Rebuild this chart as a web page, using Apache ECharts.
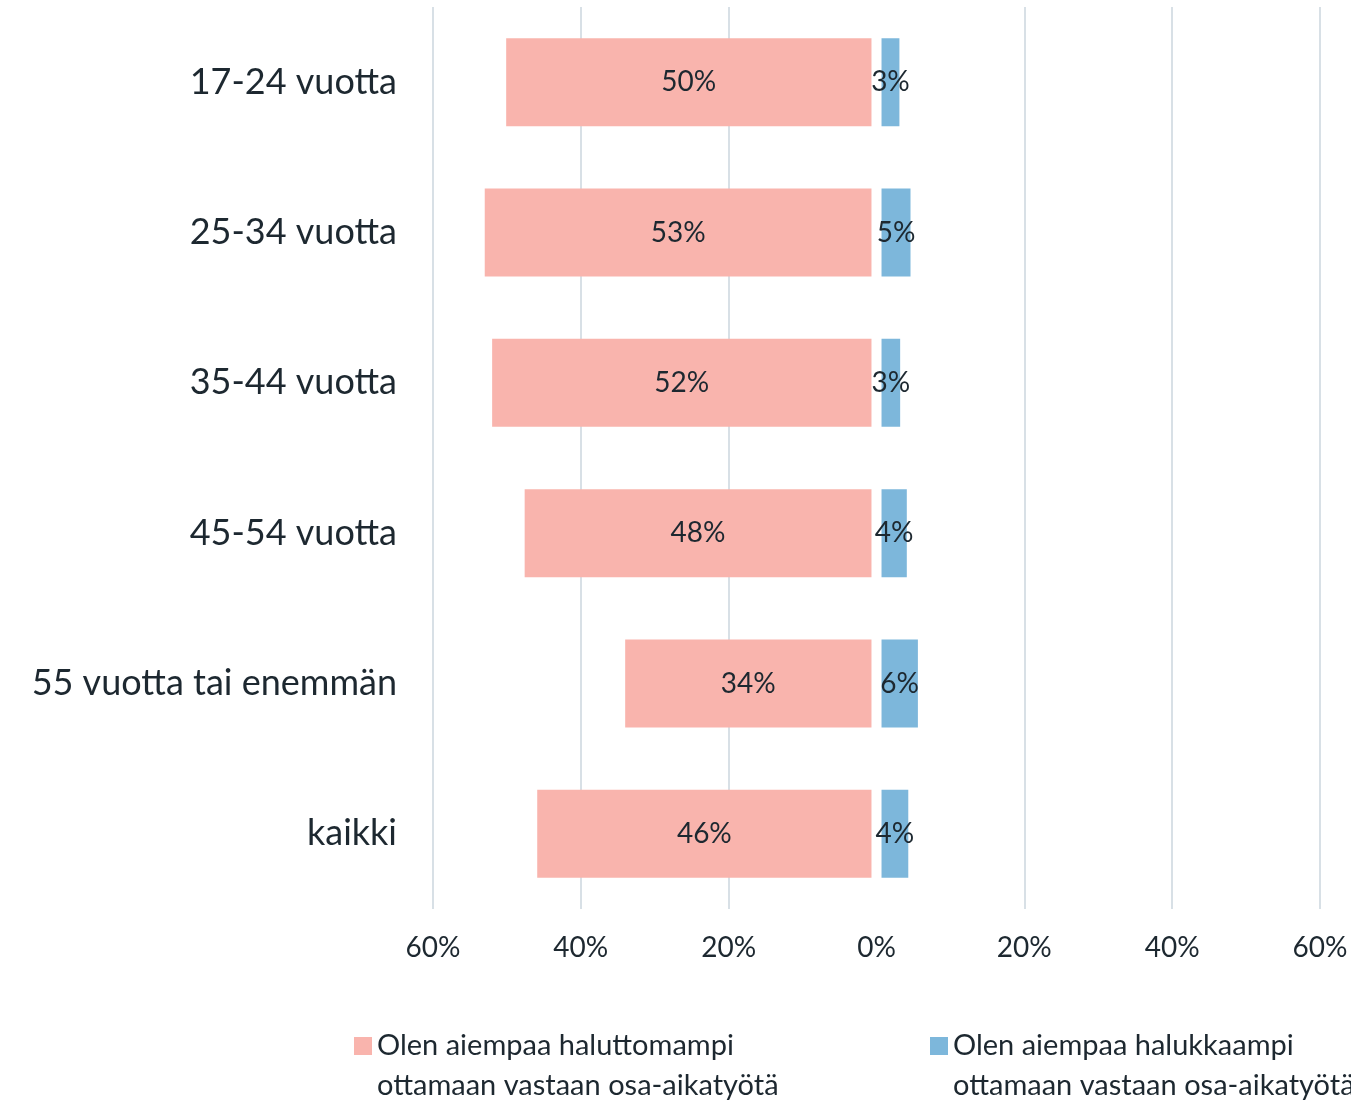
<!DOCTYPE html>
<html>
<head>
<meta charset="utf-8">
<script src="https://cdn.jsdelivr.net/npm/echarts@6/dist/echarts.min.js"></script>
<style>
  html, body { margin: 0; padding: 0; background: #fff; }
  #chart { width: 1351px; height: 1102px; }
</style>
</head>
<body>
<div id="chart"></div>
<script>
// ikäryhmät
var categories = ['17-24 vuotta', '25-34 vuotta', '35-44 vuotta', '45-54 vuotta', '55 vuotta tai enemmän', 'kaikki'];
// haluttomampi (vasen puoli)
var lessWilling = [50.1, 53.0, 52.0, 47.6, 34.0, 45.9];
// halukkaampi (oikea puoli)
var moreWilling = [3.1, 4.6, 3.2, 4.1, 5.6, 4.3];
var seriesNames = ['Olen aiempaa haluttomampi\nottamaan vastaan osa-aikatyötä', 'Olen aiempaa halukkaampi\nottamaan vastaan osa-aikatyötä'];
var axisTicks = [-60, -40, -20, 0, 20, 40, 60];

var GAP = 0.68; // valkoinen rako nollan kohdalla
var FONT = 'Lato';
var TXT = '#1d2830';
var PINK = '#f9b4ad';
var BLUE = '#7db7db';
var GRIDC = '#d8e0e6';
// neliö ylälaidassa, jotta se osuu tekstin ensimmäiselle riville
var LEGEND_ICON = 'path://M0,0h18v18h-18z M0,58h0';

var myChart = echarts.init(document.getElementById('chart'));

var gapData = categories.map(function(){ return GAP; });

function legendOpt(left, name){
  return {
    left: left, top: 1026, padding: 0,
    itemWidth: 18, itemHeight: 58, icon: LEGEND_ICON,
    data: [name],
    textStyle: { fontFamily: FONT, fontSize: 29, color: TXT, lineHeight: 40 },
    selectedMode: false
  };
}

var option = {
  animation: false,
  textStyle: { fontFamily: FONT },
  grid: { left: 433, right: 31, top: 7, bottom: 193 },
  legend: [ legendOpt(354, seriesNames[0]), legendOpt(930, seriesNames[1]) ],
  xAxis: {
    type: 'value',
    min: axisTicks[0], max: axisTicks[axisTicks.length - 1], interval: 20,
    axisLine: { show: false },
    axisTick: { show: false },
    axisLabel: {
      margin: 25,
      fontSize: 28, color: TXT, fontFamily: FONT,
      formatter: function(v){ return Math.abs(v) + '%'; }
    },
    splitLine: {
      lineStyle: {
        width: 2,
        color: axisTicks.map(function(t){ return t === 0 ? 'rgba(0,0,0,0)' : GRIDC; })
      }
    }
  },
  yAxis: {
    type: 'category',
    inverse: true,
    data: categories,
    axisLine: { show: false },
    axisTick: { show: false },
    axisLabel: { margin: 36, fontSize: 36, color: TXT, fontFamily: FONT }
  },
  series: [
    {
      name: 'gapL', type: 'bar', stack: 'a', barWidth: 88, silent: true,
      itemStyle: { color: 'rgba(0,0,0,0)' },
      data: gapData.map(function(g){ return -g; })
    },
    {
      name: seriesNames[0], type: 'bar', stack: 'a', barWidth: 88,
      itemStyle: { color: PINK },
      label: {
        show: true, position: 'inside', fontSize: 28, color: TXT, fontFamily: FONT,
        formatter: function(p){ return Math.round(lessWilling[p.dataIndex]) + '%'; }
      },
      data: lessWilling.map(function(v){ return -(v - GAP); })
    },
    {
      name: 'gapR', type: 'bar', stack: 'a', barWidth: 88, silent: true,
      itemStyle: { color: 'rgba(0,0,0,0)' },
      data: gapData
    },
    {
      name: seriesNames[1], type: 'bar', stack: 'a', barWidth: 88,
      itemStyle: { color: BLUE },
      label: {
        show: true, position: 'inside', fontSize: 28, color: TXT, fontFamily: FONT,
        formatter: function(p){ return Math.round(moreWilling[p.dataIndex]) + '%'; }
      },
      data: moreWilling.map(function(v){ return v - GAP; })
    }
  ]
};
myChart.setOption(option);
</script>
</body>
</html>
